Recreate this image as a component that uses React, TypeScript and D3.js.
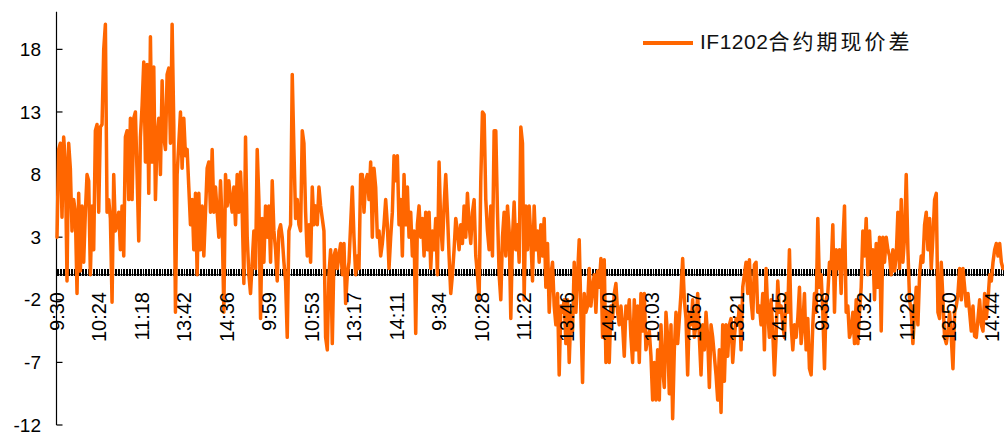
import React, { useEffect, useRef } from "react";
import * as d3 from "d3";

// basis (futures - spot) for IF1202, sampled from the minute data
const day1 = [
  3, 10, 10.5, 4.6, 11, 9, -0.5, 10.5, 8.5, 3.5, 6, 5, -1.5, 6.5, 0.3, 5.5, 1, 5,
  8, 7.5, 0, 5.5, 2, 11.5, 12, 5, 11.8, 12, 18, 20, 5, 6, 4.5, -2.2, 8, 3.5,
  4, 5, 2, 5.5, 1.5, 11, 11.5, 6, 12.5, 6, 12.5, 13, 8, 2.7, 11, 13.5, 17, 9,
  16.8, 6.5, 19, 9, 16.6, 6, 11, 12.5, 8, 15.5, 11, 10, 16, 16.5, 10.5, 20, 12, -3,
  8, 10.5, 13, 8.5, 12.5, 9.5, 10, 7, 4, 6, 2, 6.5, 0, 6.5, 2, 5.5, 1.5, 5,
  8.5, 9, 5, 10, 5, 7, 5, 3, 7.5, 4, -3, 8, 5.5, 7.5, 6, 5, 7, 4,
  8, 5, 8.2, 5, -0.7, 11,
];
const day2 = [
  3, 0, -1.5, 1, 3.5, 0.5, 10, 6, -3.5, 4.5, 1, 5.5, 3, 5.5, 1, 7.5, 3.5, 2,
  -0.5, 3.5, 4, 3, 1, -0.5, -5, 3.5, 4, 16, 10, 4.5, 6, 4, 3.5, 11.5, 10.5, 5,
  1.5, 4, 1, 7, 4, 5.5, 4, 7, 5.5, 4.5, 3.5, -5, -6, 0, 2, -5.5, 1.5, 2,
  0.5, 1.5, 2.5, 0, 2.5, -2.3, 0, 1, 4, 7, 3, 0, 1.5, 0.5, 8, 8, 5, 7.5,
  8, 6, 9, 3, 8.5, 7, 3, 3.5, 1.5, 2.5, 4, 6, 4, 0.5, 3, 5, 9.5, 7.5,
  9.5, 4, 6, 1.5, 8, 4, 7, 3, 5, 1.5, 3.5, -4.7, 4, 5.5, 3, 4.5, 1.5, 5,
  2, 5, 0.5, 3.5, 2, 4.5,
];
const day3 = [
  0, 9, 4, 2, 5.5, 8, 5, 1.5, -1.5, 0, 2, 4.5, 3.5, 2, 4, 2.5, 5.5, 3,
  6.5, 4, 2.5, 5, 6, 1.5, 0, -2, 7.5, 13, 12.8, 6, 3.5, 2, 5.5, 1.5, 11.5, 11.5,
  5, 0, -2, 3, 5, 1.5, 5.5, 3.5, -3.5, 3, 5.8, 2, 4, 1, 11.8, 10.5, -2, 5.5,
  2, 5.5, 3, -0.5, 5.5, 2, 3.5, 1, 4, 1.5, 4.5, -1, 2.5, -3, 0, 1, -2.5, -4,
  -1.5, -8, -2.5, -3, -2, -5.5, -2, -7, -3, -4.5, 1, -3, 0, 2.8, -3, -8.6, -1.5, -3,
  -2.5, 0.5, -2.5, -1, 0, -3, 0.3, -1, 1.3, -5, 1.2, -7, -3, -7, -2.5, -3.5, -1.5, -0.7,
  -3, -4, -2.5, -4, -6.5, -2.5,
];
const day4 = [
  -3.5, -2, -5, -7, -2, -6, -2.5, -7, -1.5, -4.5, -1.5, -6, -5, -4.5, -6.5, -10, -7, -10,
  -6, -10, -4, -7.5, -9, -3, -5, -9.5, -4, -11.5, -6, -3, -5.5, -3.5, -1.5, 1.3, -2, -3.5,
  -8, -3, -4, -2, -5, -4, -1.5, -5, -8, -4, -6, -3, -5, -9, -4, -5, -6.5, -8,
  -10, -6, -11, -4, -8.5, -4, -6.5, -4, -3.5, -7, -5, -3.5, -4, -2.5, -6, -1, 0, 1,
  -1.5, 1.2, -2, -3.5, 0.8, 1, -3, -2.5, -4, -1.5, -6, 0.5, -3, -5, -2, -4.5, -8, -5,
  -0.5, -3, -2.5, -4, -5, -1.5, -3, 2, -4, -6, -4, -5, -3.5, -1, -5.5, -4, -1.5, -6,
  -3.5, -7.5, -8, -4, -1.5, -3,
];
const day5 = [
  4.5, -1, 0, -3, -7.5, -2, -1.5, 1, 0.5, 4, -3, 2, 0.5, 2, -1.5, 2.5, 5.5, -3,
  -2.5, -5, -4.5, -3, -5.5, -2, -5.5, -3, -1, 3.5, 1.5, 4.5, 0, 3.5, 0.5, 2, -2, 2.5,
  -1, 3, -4.5, 3, 1, 3, 2, 1.5, 0, 2, 0.3, 1.5, 5, 0.5, 6, 1, 3, 8,
  2, -2, -3, -5.5, -3, -1, -4, 0, 1.5, 1, 4, 5, 2, 4.5, 0.5, 3, 6, 6.5,
  -3, -3.5, 1, -2, -5, -5.5, -4.5, -3, -5, -7.5, -3, -2.5, -1.5, 0.5, -2, 0.5, -1, -2.5,
  -1.5, -3, -4.5, -2.5, -4.9, -5, -3.5, -2, -4, -4.5, -1.5, -3.5, -2, 0, -0.5, 1, 2, 2.5,
  1.5, 2.5, 1, 0.5,
];

const timeLabels = [
  "9:30", "10:24", "11:18", "13:42", "14:36", "9:59", "10:53", "13:17", "14:11",
  "9:34", "10:28", "11:22", "13:46", "14:40", "10:03", "10:57", "13:21", "14:15",
  "9:38", "10:32", "11:26", "13:50", "14:44",
];
const yTicks = [-12, -7, -2, 3, 8, 13, 18];
const seriesCode = "IF1202";
const seriesName = "合约期现价差";
const categoryCount = 1203;
const labelEvery = 54;

const latin = "'Liberation Sans', Arial, sans-serif";
const orange = "#ff6600";

function App() {
  const ref = useRef<SVGSVGElement>(null);

  useEffect(() => {
    const svg = d3.select(ref.current);
    svg.selectAll("*").remove();

    const values = [...day1, ...day2, ...day3, ...day4, ...day5];
    const step = (categoryCount - 1) / (values.length - 1);

    const x = d3.scaleLinear().domain([0, categoryCount - 1]).range([57, 1003]);
    const y = d3.scaleLinear().domain([-12, 21]).range([425, 11.8]);
    const y0 = y(0);

    // y axis
    svg.append("line")
      .attr("x1", 56.5).attr("x2", 56.5)
      .attr("y1", y(21)).attr("y2", y(-12))
      .attr("stroke", "#000").attr("stroke-width", 1.2);
    svg.selectAll(".ytick")
      .data(yTicks)
      .enter()
      .append("line")
      .attr("x1", 56.5).attr("x2", 62.5)
      .attr("y1", (d) => y(d)).attr("y2", (d) => y(d))
      .attr("stroke", "#000").attr("stroke-width", 1.2);
    svg.selectAll(".ylabel")
      .data(yTicks)
      .enter()
      .append("text")
      .attr("x", 41)
      .attr("y", (d) => y(d))
      .attr("dy", "0.35em")
      .attr("text-anchor", "end")
      .attr("font-family", latin)
      .attr("font-size", 19)
      .attr("fill", "#000")
      .text((d) => d);

    // x axis with a tick on every other category
    const tickIdx = d3.range(0, categoryCount, 2);
    svg.append("g")
      .attr("shape-rendering", "crispEdges")
      .selectAll("line")
      .data(tickIdx)
      .enter()
      .append("line")
      .attr("x1", (d) => x(d)).attr("x2", (d) => x(d))
      .attr("y1", y0 - 5.5).attr("y2", y0 + 1.5)
      .attr("stroke", "#000").attr("stroke-width", 1);
    svg.append("line")
      .attr("x1", 56.5).attr("x2", 1004)
      .attr("y1", y0).attr("y2", y0)
      .attr("stroke", "#000").attr("stroke-width", 1.2);

    // series
    const line = d3.line<number>()
      .x((d, i) => x(i * step))
      .y((d) => y(d));
    svg.append("path")
      .datum(values)
      .attr("d", line)
      .attr("fill", "none")
      .attr("stroke", orange)
      .attr("stroke-width", 3.5)
      .attr("stroke-linejoin", "round")
      .attr("stroke-linecap", "round");

    // time labels
    svg.selectAll(".xlabel")
      .data(timeLabels)
      .enter()
      .append("text")
      .attr("transform", (d, i) => `translate(${x(i * labelEvery)},292) rotate(-90)`)
      .attr("dy", "0.35em")
      .attr("text-anchor", "end")
      .attr("font-family", latin)
      .attr("font-size", 20)
      .attr("fill", "#000")
      .text((d) => d);

    // legend
    svg.append("line")
      .attr("x1", 643).attr("x2", 693)
      .attr("y1", 43).attr("y2", 43)
      .attr("stroke", orange).attr("stroke-width", 4);
    const legend = svg.append("text")
      .attr("x", 700)
      .attr("y", 43)
      .attr("dy", "0.36em")
      .attr("fill", "#111");
    legend.append("tspan")
      .attr("font-family", latin)
      .attr("font-size", 21)
      .attr("letter-spacing", 0.5)
      .text(seriesCode);
    legend.append("tspan")
      .attr("font-family", "'Noto Sans CJK SC', sans-serif")
      .attr("font-size", 21)
      .attr("letter-spacing", 3)
      .text(seriesName);
  }, []);

  return (
    <svg
      ref={ref}
      width={1004}
      height={432}
      style={{ position: "absolute", left: 0, top: 0, background: "#fff" }}
    />
  );
}

export default App;
